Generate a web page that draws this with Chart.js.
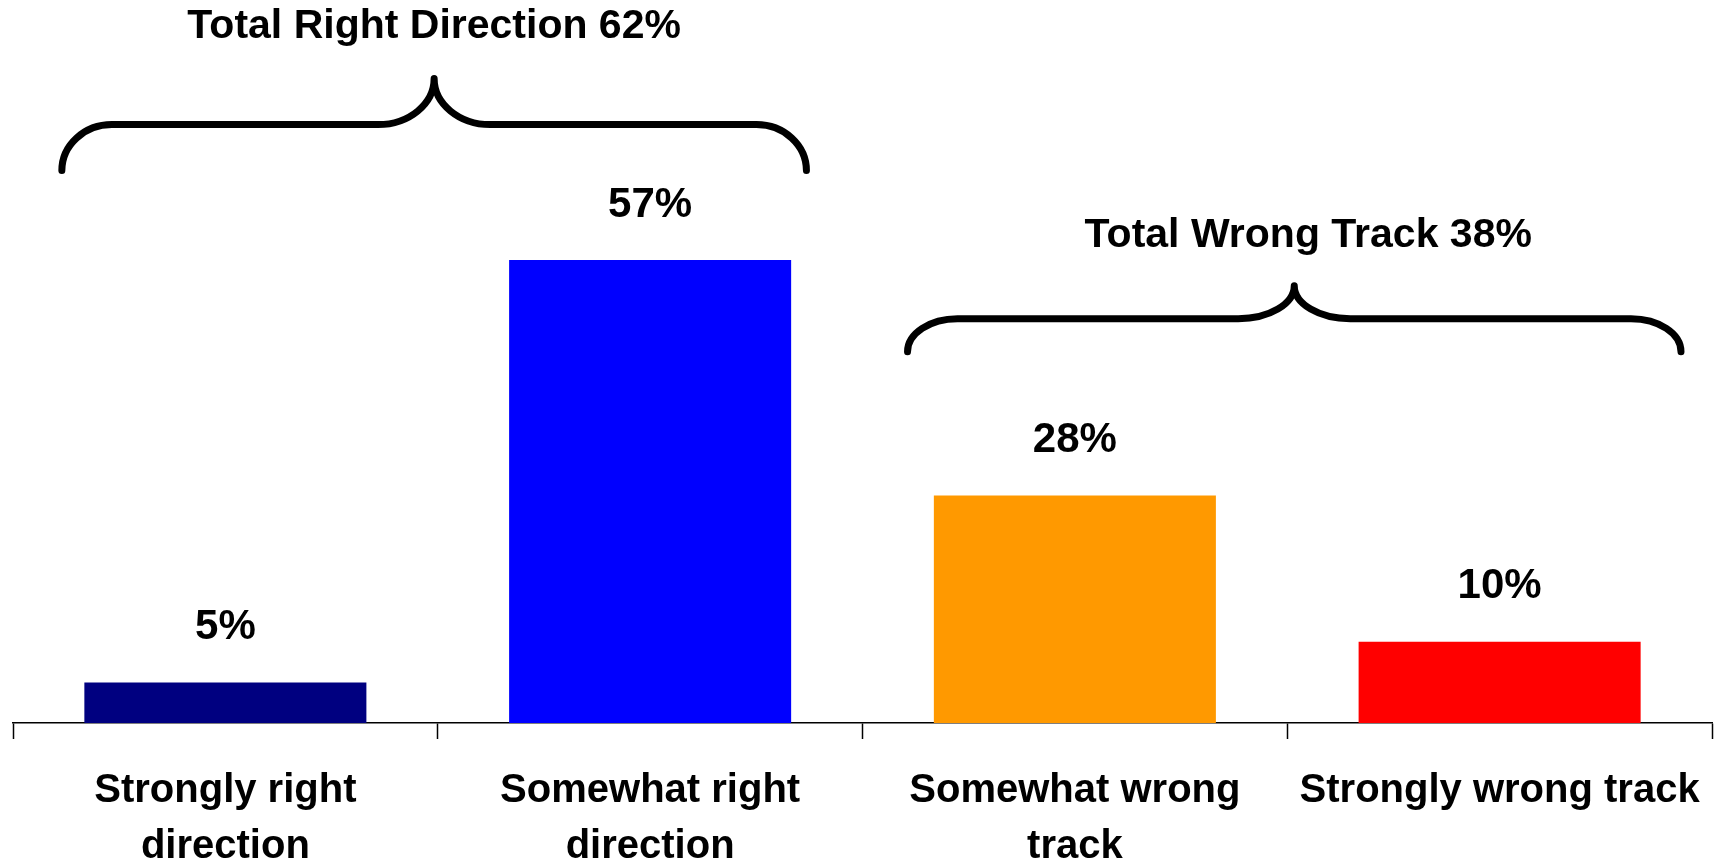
<!DOCTYPE html>
<html>
<head>
<meta charset="utf-8">
<script src="https://cdn.jsdelivr.net/npm/chart.js@4.4.1/dist/chart.umd.min.js"></script>
<style>
  html, body { margin: 0; padding: 0; background: #fff; }
  #wrap { width: 1715px; height: 861px; }
</style>
</head>
<body>
<div id="wrap"><canvas id="myChart"></canvas></div>
<script>
var categories = [
  ["Strongly right", "direction"],
  ["Somewhat right", "direction"],
  ["Somewhat wrong", "track"],
  ["Strongly wrong track"]
];
var values = [5, 57, 28, 10];
var barColors = ["#000080", "#0000ff", "#ff9900", "#ff0000"];
var valueLabels = ["5%", "57%", "28%", "10%"];

var groupTitles = ["Total Right Direction 62%", "Total Wrong Track 38%"];
var groupFrom = [0, 2];
var groupTo = [1, 3];

var FONT = "'Liberation Sans', Arial, Helvetica, sans-serif";

// value labels above each bar
var barLabels = {
  id: "barLabels",
  afterDatasetsDraw: function(chart) {
    var ctx = chart.ctx;
    var meta = chart.getDatasetMeta(0);
    ctx.save();
    ctx.font = "bold 42px " + FONT;
    ctx.fillStyle = "#000";
    ctx.textAlign = "center";
    ctx.textBaseline = "middle";
    meta.data.forEach(function(bar, i) {
      ctx.fillText(valueLabels[i], bar.x, bar.y - 55);
    });
    ctx.restore();
  }
};

// curly braces with group totals
var braces = {
  id: "braces",
  afterDatasetsDraw: function(chart, args, opts) {
    var ctx = chart.ctx;
    var x = chart.scales.x;
    var y = chart.scales.y;
    var cw = x.width / values.length;
    ctx.save();
    ctx.strokeStyle = "#000";
    ctx.lineWidth = 7;
    ctx.lineCap = "round";
    ctx.lineJoin = "round";
    opts.items.forEach(function(b, i) {
      var x0 = x.getPixelForValue(groupFrom[i]) + b.padL * cw;
      var x1 = x.getPixelForValue(groupTo[i]) + b.padR * cw;
      var xm = (x0 + x1) / 2;
      var yEnd = y.getPixelForValue(b.level);
      var d1 = b.rise, d2 = b.rise;
      var yH = yEnd - d1;
      var yTip = yH - d2;
      var r = 50, r2 = 56, k = 0.552;
      ctx.beginPath();
      ctx.moveTo(x0, yEnd);
      ctx.bezierCurveTo(x0, yEnd - k * d1, x0 + r - k * r, yH, x0 + r, yH);
      ctx.lineTo(xm - r2, yH);
      ctx.bezierCurveTo(xm - r2 + k * r2, yH, xm, yTip + k * d2, xm, yTip);
      ctx.bezierCurveTo(xm, yTip + k * d2, xm + r2 - k * r2, yH, xm + r2, yH);
      ctx.lineTo(x1 - r, yH);
      ctx.bezierCurveTo(x1 - r + k * r, yH, x1, yEnd - k * d1, x1, yEnd);
      ctx.stroke();

      ctx.font = "bold 41px " + FONT;
      ctx.fillStyle = "#000";
      ctx.textAlign = "center";
      ctx.textBaseline = "middle";
      ctx.fillText(groupTitles[i], xm + b.dx, yTip - b.gap);
    });
    ctx.restore();
  }
};

window.onload = function() {
  const ctx = document.getElementById("myChart").getContext("2d");
  var chart = new Chart(ctx, {
    type: "bar",
    data: {
      labels: categories,
      datasets: [
        {
          data: values,
          backgroundColor: barColors,
          borderWidth: 0,
          categoryPercentage: 1,
          barPercentage: 0.664
        }
      ]
    },
    options: {
      responsive: true,
      maintainAspectRatio: false,
      animation: false,
      layout: { padding: { left: 13, right: 3, top: 0, bottom: 0 } },
      plugins: {
        legend: { display: false },
        tooltip: { enabled: false },
        braces: {
          items: [
            { level: 68, padL: -0.385, padR: 0.368, rise: 46, gap: 52, dx: 0 },
            { level: 45.7, padL: -0.394, padR: 0.427, rise: 33, gap: 50, dx: 14 }
          ]
        }
      },
      scales: {
        y: { display: false, min: 0, max: 89 },
        x: {
          offset: true,
          grid: {
            offset: true,
            drawOnChartArea: false,
            drawTicks: true,
            tickLength: 16,
            tickWidth: 1.5,
            color: "#000"
          },
          border: { display: true, color: "#000", width: 1.5 },
          ticks: {
            color: "#000",
            padding: 24,
            maxRotation: 0,
            autoSkip: false,
            font: { family: FONT, size: 40, weight: "bold", lineHeight: 1.4 }
          },
          afterFit: function(axis) {
            axis.height = 138;
            axis.paddingLeft = 0;
            axis.paddingRight = 0;
          }
        }
      }
    },
    plugins: [barLabels, braces]
  });
};
</script>
</body>
</html>
